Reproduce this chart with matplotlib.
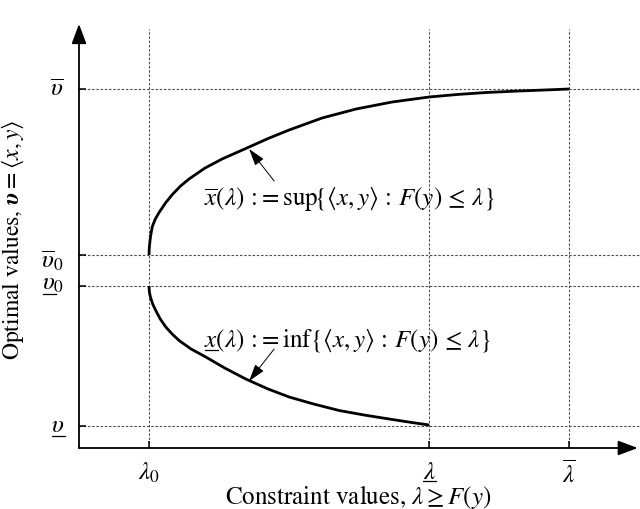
#!/usr/bin/env python3
"""
Sketch of optimal values vs constraint values (sup / inf envelopes).
"""

import matplotlib
matplotlib.use("Agg")
import matplotlib.pyplot as plt
from matplotlib.lines import Line2D
from matplotlib.transforms import IdentityTransform
from matplotlib.font_manager import FontProperties

plt.rcParams["font.family"] = "STIXGeneral"
plt.rcParams["mathtext.fontset"] = "stix"

# levels on the constraint axis: lambda_0, lambda_lower, lambda_upper
lam_ticks = [1.0, 5.0, 7.0]
lam_labels = [r"$\lambda_0$", r"$\lambda$", r"$\overline{\lambda}$"]
lam_underline = [False, True, False]

# levels on the value axis: v_lower, v_lower_0, v_upper_0, v_upper
v_ticks = [0.44, 3.24, 3.86, 7.18]
v_labels = [r"$\upsilon$", r"$\upsilon_0$", r"$\overline{\upsilon}_0$", r"$\overline{\upsilon}$"]
v_underline = [True, True, False, False]
v_label_dy = [-5, -3, -12, -6]   # pixel shift of label baseline

# upper envelope  x_bar(lambda)
lam_up = [1.0, 1.003, 1.008, 1.021, 1.047, 1.09, 1.143, 1.24, 1.333, 1.45, 1.571, 1.80,
          2.043, 2.429, 2.70, 3.0, 3.471, 3.957, 4.471, 5.0, 5.40, 5.814, 6.286, 6.65, 7.0]
val_up = [3.86, 3.99, 4.07, 4.23, 4.43, 4.58, 4.71, 4.91, 5.07, 5.24, 5.38, 5.60,
          5.78, 6.02, 6.19, 6.36, 6.60, 6.78, 6.92, 7.02, 7.07, 7.11, 7.14, 7.16, 7.18]

# lower envelope  x_under(lambda)
lam_lo = [1.0, 1.003, 1.01, 1.024, 1.055, 1.096, 1.16, 1.239, 1.33, 1.429, 1.60, 1.81,
          2.08, 2.381, 2.70, 3.0, 3.35, 3.714, 4.07, 4.429, 4.75, 5.0]
val_lo = [3.24, 3.15, 3.08, 3.00, 2.87, 2.75, 2.58, 2.42, 2.28, 2.15, 1.98, 1.82,
          1.60, 1.38, 1.18, 1.02, 0.88, 0.75, 0.66, 0.58, 0.51, 0.46]

TXT = 18
FP = FontProperties(size=TXT)

fig = plt.figure(figsize=(6.4, 5.1), dpi=100)
ax = fig.add_axes([79 / 640, 61 / 510, 561 / 640, 424 / 510])
ax.set_xlim(0, 8.01)
ax.set_ylim(0, 8.48)
for s in ax.spines.values():
    s.set_visible(False)

grid_kw = dict(color="0.3", lw=0.8, ls=(0, (2.2, 1.6)), zorder=1)
for v in v_ticks:
    ax.axhline(v, **grid_kw)
for lam in lam_ticks:
    ax.axvline(lam, ymax=0.988, **grid_kw)

ax.plot(lam_up, val_up, color="k", lw=2.0, zorder=3, solid_capstyle="butt")
ax.plot(lam_lo, val_lo, color="k", lw=2.0, zorder=3, solid_capstyle="butt")

# axes with arrow heads
axis_arrow = dict(arrowstyle="-|>,head_length=0.8,head_width=0.3", lw=1.3,
                  color="k", mutation_scale=15, shrinkA=0, shrinkB=0)
ax.annotate("", xy=(0.996, 0), xytext=(0, 0), xycoords="axes fraction",
            textcoords="axes fraction", arrowprops=axis_arrow)
ax.annotate("", xy=(0, 1.0), xytext=(0, 0), xycoords="axes fraction",
            textcoords="axes fraction", arrowprops=axis_arrow)

ax.set_xticks(lam_ticks)
ax.set_yticks(v_ticks)
ax.tick_params(direction="in", length=5, width=1.1, labelleft=False,
               labelbottom=False, top=False, right=False)

renderer = fig.canvas.get_renderer()


def text_width(s):
    w, h, d = renderer.get_text_width_height_descent(s, FP, ismath=True)
    return w


def underline(x0, x1, y):
    """horizontal rule in pixel coordinates"""
    fig.add_artist(Line2D([x0, x1], [y, y], transform=IdentityTransform(),
                          color="k", lw=0.9))


# tick labels, drawn by hand so that some can be underlined
for v, lab, ul, dy in zip(v_ticks, v_labels, v_underline, v_label_dy):
    ax.annotate(lab, xy=(0, v), xytext=(-15, dy), textcoords="offset pixels",
                ha="right", va="baseline", fontsize=TXT, annotation_clip=False)
    if ul:
        px, py = ax.transData.transform((0, v))
        left = px - 15 - text_width(lab)
        underline(left + 1, left + text_width(r"$\upsilon$") + 1, py + dy - 5)

for lam, lab, ul in zip(lam_ticks, lam_labels, lam_underline):
    ax.annotate(lab, xy=(lam, 0), xytext=(0, -12), textcoords="offset pixels",
                ha="center", va="top", fontsize=TXT, annotation_clip=False)
    if ul:
        px, py = ax.transData.transform((lam, 0))
        w = text_width(lab)
        underline(px - w / 2, px + w / 2, py - 33)

# curve annotations
note_arrow = dict(arrowstyle="-|>,head_length=0.7,head_width=0.22", lw=0.7,
                  color="k", mutation_scale=15, shrinkA=0, shrinkB=0)
ax.annotate("", xy=(2.429, 5.98), xytext=(2.786, 5.34), arrowprops=note_arrow, zorder=4)
ax.annotate("", xy=(2.429, 1.34), xytext=(2.786, 1.98), arrowprops=note_arrow, zorder=4)

rest = r"(\lambda)\, {:}\!= %s\!\{\langle x,y\rangle \,:\, F(y) \,\leq\, \lambda\}$"
ax.text(1.786, 4.88, r"$\overline{x}" + rest % r"\sup",
        ha="left", va="baseline", fontsize=TXT, zorder=5)
ax.text(1.786, 2.04, r"$x" + rest % r"\inf",
        ha="left", va="baseline", fontsize=TXT, zorder=5)
px, py = ax.transData.transform((1.786, 2.04))
underline(px + 1, px + text_width(r"$x$"), py - 4)

fig.text(358 / 640, 1 - 497 / 510, r"Constraint values, $\lambda \geq F(y)$",
         ha="center", va="center", fontsize=TXT)
fig.text(13 / 640, 1 - 240 / 510, r"Optimal values, $\boldsymbol{\upsilon} = \langle x, y\rangle$",
         ha="center", va="center", rotation=90, fontsize=17)

fig.savefig("out.png", dpi=100)
